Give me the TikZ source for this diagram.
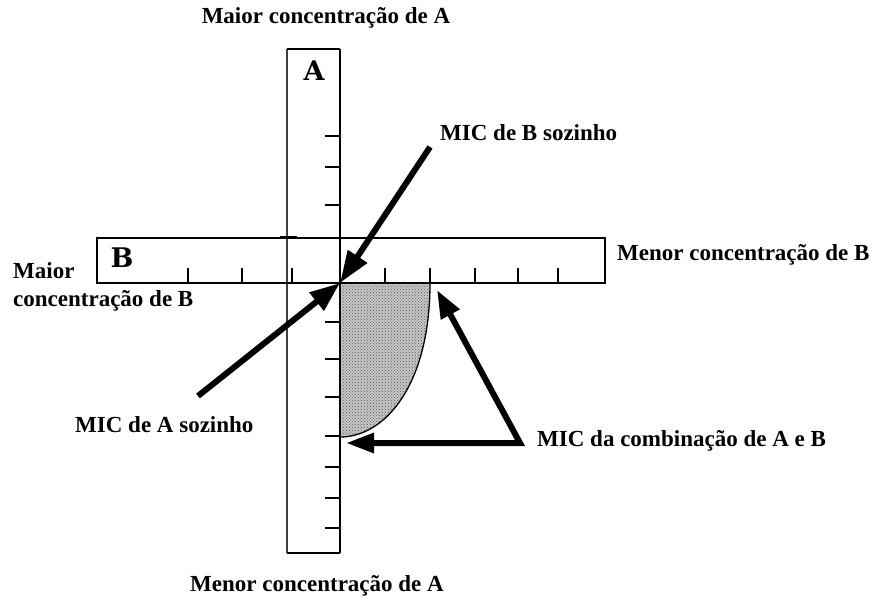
\documentclass[tikz,border=0pt]{standalone}
\usepackage{fontspec}
\setmainfont{Liberation Serif}
\newfontfamily\heavyfont{DejaVu Serif}
\usetikzlibrary{arrows.meta,patterns}
\begin{document}
\begin{tikzpicture}[x=1pt,y=-1pt,
  lbl/.style={inner sep=0pt,font=\fontsize{23}{28}\selectfont\bfseries},
  big/.style={inner sep=0pt,font=\heavyfont\fontsize{27}{30}\selectfont\bfseries},
  tick/.style={line width=2pt},
  bigarrow/.style={line width=6pt,-{Triangle[length=32pt,width=22pt]}},
]
\useasboundingbox (0,0) rectangle (877,606);
\fill[white] (0,0) rectangle (877,606);
% points
\coordinate (O) at (340,283);
\coordinate (C1) at (430,283);
\coordinate (C2) at (340,437);
% shaded region
\path[fill=gray!45] (O) -- (C1) .. controls (430,385) and (385,437) .. (C2) -- cycle;
\path[pattern=crosshatch dots,pattern color=gray!70!black] (O) -- (C1) .. controls (430,385) and (385,437) .. (C2) -- cycle;
\draw[line width=1.3pt] (C1) .. controls (430,385) and (385,437) .. (C2);
% strip A
\draw[line width=1.6pt,black!75] (287,49) -- (287,553);
\draw[line width=2pt] (287,49) -- (340,49);
\draw[line width=2.2pt] (287,553) -- (340,553);
\draw[line width=2.6pt] (340,49) -- (340,553);
\foreach \y in {136,167,205,322,359,397,436,467,498,528}
  \draw[tick] (325,\y) -- (340,\y);
% strip B
\draw[line width=2pt] (97,238) rectangle (605,283);
\draw[line width=3pt] (280,237) -- (297,237);
\foreach \x in {188,242,292,385,430,475,518,558}
  \draw[tick] (\x,283) -- (\x,268);
\node[big] (A) at (314,71) {A};
\node[big] (B) at (122,258) {B};
% labels
\node[lbl] (maxA) at (326,18) {Maior concentração de A};
\node[lbl] (minA) at (317,586) {Menor concentração de A};
\node[lbl,anchor=west] (micB) at (440,133) {MIC de B sozinho};
\node[lbl,anchor=west] (minB) at (617,255) {Menor concentração de B};
\node[lbl,anchor=west,align=left] (maxB) at (13,287) {Maior\\concentração de B};
\node[lbl,anchor=west] (micA) at (75,425) {MIC de A sozinho};
\node[lbl,anchor=west] (micAB) at (537,441) {MIC da combinação de A e B};
% arrows
\coordinate (tB) at (430,147);
\coordinate (tA) at (198,396);
\coordinate (corner) at (520,443);
\coordinate (hc) at (437,290);
\coordinate (hh) at (346,443);
\draw[bigarrow] (tB) -- (O);
\draw[bigarrow,-{Triangle[length=30pt,width=22pt]}] (tA) -- (O);
\draw[line width=6pt,line join=miter,{Triangle[length=28pt,width=20pt]}-{Triangle[length=28pt,width=19pt]}] (hc) -- (corner) -- (hh);
\end{tikzpicture}
\end{document}
